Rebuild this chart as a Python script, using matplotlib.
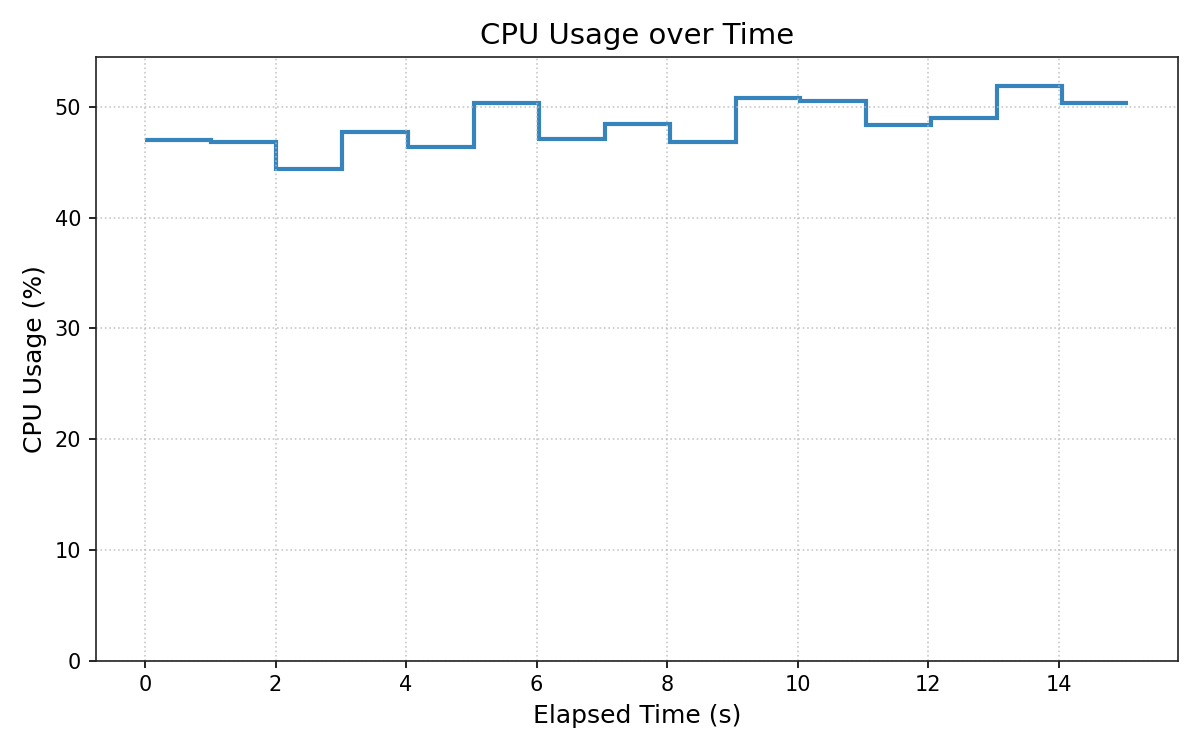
import matplotlib
matplotlib.use('Agg')
import matplotlib.pyplot as plt
import numpy as np

# sample edges (s) and cpu usage for each interval (%)
elapsed = [0.0, 1.005, 2.01, 3.02, 4.03, 5.04, 6.04, 7.05, 8.04, 9.05,
           10.04, 11.05, 12.05, 13.05, 14.05, 15.07]
cpu_usage = [47.0, 46.8, 44.4, 47.7, 46.35, 50.3, 47.1, 48.45, 46.85, 50.8,
             50.55, 48.35, 49.0, 51.9, 50.35]


def main():
    fig, ax = plt.subplots(figsize=(8, 5), dpi=150)
    ax.stairs(cpu_usage, elapsed, baseline=None, color="tab:blue",
              alpha=0.9, linewidth=2)
    ax.margins(x=0.05)
    ax.set_ylim(0, max(cpu_usage) * 1.05)
    ax.set_title("CPU Usage over Time", fontsize=14)
    ax.set_xlabel("Elapsed Time (s)", fontsize=12)
    ax.set_ylabel("CPU Usage (%)", fontsize=12)
    ax.tick_params(labelsize=10)
    ax.grid(True, linestyle=":", color="#bbbbbb", alpha=0.8)
    for sp in ax.spines.values():
        sp.set_color("#222222")
    plt.tight_layout()
    plt.savefig("out.png")


if __name__ == "__main__":
    main()
